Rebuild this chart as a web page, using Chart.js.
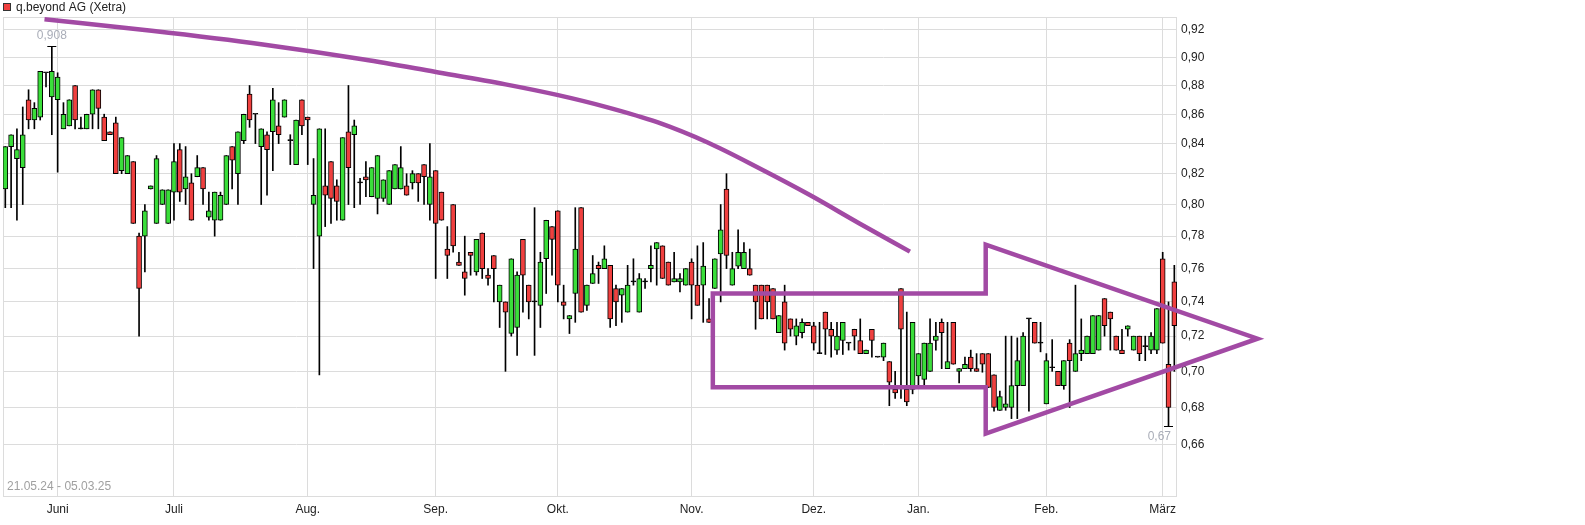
<!DOCTYPE html>
<html>
<head>
<meta charset="utf-8">
<script src="https://cdn.jsdelivr.net/npm/chart.js@4"></script>
<style>
  html, body { margin: 0; padding: 0; background: #fff; }
</style>
</head>
<body>
<canvas id="chart" width="1585" height="525"></canvas>
<script>
// OHLC, one entry per Xetra trading day, 21.05.24 - 05.03.25
const opens = [
  0.810,0.838,0.830,0.824,0.870,0.856,0.858,0.889,0.872,0.870,
  0.850,0.852,0.880,0.850,0.850,0.860,0.877,0.858,0.848,0.854,
  0.822,0.820,0.828,0.780,0.780,0.810,0.788,0.800,0.788,0.808,
  0.836,0.810,0.814,0.818,0.824,0.792,0.790,0.790,0.800,0.838,
  0.820,0.842,0.874,0.860,0.838,0.846,0.848,0.852,0.858,0.842,
  0.826,0.870,0.858,0.800,0.780,0.812,0.828,0.812,0.790,0.848,
  0.846,0.814,0.818,0.805,0.804,0.804,0.800,0.810,0.810,0.812,
  0.814,0.820,0.826,0.800,0.822,0.808,0.772,0.800,0.764,0.758,
  0.770,0.758,0.782,0.756,0.768,0.740,0.740,0.7215,0.725,0.778,
  0.750,0.740,0.738,0.766,0.786,0.796,0.740,0.730,0.745,0.798,
  0.738,0.751,0.762,0.760,0.762,0.748,0.744,0.734,0.752,0.734,
  0.752,0.760,0.772,0.774,0.764,0.752,0.752,0.750,0.764,0.750,
  0.750,0.730,0.748,0.769,0.810,0.750,0.7615,0.760,0.760,0.750,
  0.750,0.750,0.748,0.722,0.740,0.730,0.720,0.722,0.728,0.726,
  0.710,0.734,0.724,0.712,0.7175,0.716,0.724,0.7175,0.710,0.724,
  0.708,0.708,0.7055,0.690,0.748,0.690,0.690,0.6975,0.6955,0.700,
  0.7175,0.728,0.7015,0.728,0.700,0.7015,0.708,0.7015,0.710,0.710,
  0.698,0.6785,0.680,0.680,0.692,0.692,0.730,0.728,0.716,0.682,
  0.702,0.700,0.692,0.716,0.700,0.710,0.710,0.710,0.712,0.742,
  0.734,0.720,0.712,0.724,0.712,0.720,0.714,0.712,0.712,0.766,
  0.704,0.752
];
const highs = [
  0.838,0.846,0.850,0.865,0.877,0.868,0.890,0.889,0.908,0.889,
  0.868,0.870,0.880,0.858,0.860,0.877,0.877,0.860,0.848,0.858,
  0.844,0.832,0.828,0.782,0.800,0.812,0.832,0.8095,0.8095,0.840,
  0.840,0.838,0.820,0.832,0.824,0.808,0.808,0.808,0.832,0.838,
  0.848,0.860,0.880,0.860,0.850,0.848,0.878,0.868,0.870,0.846,
  0.856,0.870,0.858,0.830,0.850,0.850,0.828,0.816,0.844,0.880,
  0.856,0.817,0.828,0.824,0.832,0.816,0.822,0.826,0.838,0.820,
  0.822,0.820,0.826,0.840,0.822,0.808,0.786,0.800,0.770,0.780,
  0.770,0.778,0.782,0.760,0.768,0.750,0.740,0.766,0.758,0.778,
  0.750,0.798,0.770,0.790,0.786,0.796,0.750,0.732,0.798,0.798,
  0.750,0.768,0.764,0.774,0.762,0.750,0.748,0.762,0.766,0.757,
  0.754,0.774,0.776,0.774,0.764,0.770,0.757,0.760,0.766,0.774,
  0.776,0.742,0.766,0.800,0.820,0.770,0.784,0.776,0.772,0.750,
  0.750,0.750,0.748,0.732,0.750,0.730,0.730,0.730,0.728,0.728,
  0.728,0.734,0.728,0.728,0.728,0.716,0.724,0.730,0.712,0.724,
  0.708,0.716,0.7055,0.700,0.748,0.734,0.728,0.710,0.716,0.730,
  0.728,0.730,0.728,0.728,0.7015,0.708,0.712,0.710,0.710,0.710,
  0.698,0.689,0.720,0.720,0.719,0.722,0.730,0.728,0.728,0.710,
  0.718,0.700,0.706,0.718,0.750,0.730,0.720,0.732,0.732,0.742,
  0.734,0.720,0.724,0.726,0.720,0.720,0.720,0.722,0.736,0.770,
  0.740,0.762
];
const lows = [
  0.798,0.798,0.790,0.800,0.850,0.850,0.856,0.879,0.846,0.821,
  0.850,0.852,0.850,0.850,0.850,0.850,0.850,0.842,0.846,0.820,
  0.820,0.820,0.788,0.720,0.758,0.810,0.788,0.800,0.788,0.790,
  0.802,0.800,0.790,0.818,0.800,0.790,0.780,0.790,0.800,0.810,
  0.800,0.840,0.851,0.840,0.800,0.806,0.822,0.840,0.858,0.826,
  0.826,0.846,0.826,0.760,0.698,0.786,0.788,0.790,0.790,0.800,
  0.798,0.800,0.805,0.805,0.794,0.802,0.800,0.810,0.810,0.806,
  0.810,0.802,0.800,0.790,0.754,0.790,0.754,0.770,0.762,0.744,
  0.756,0.756,0.754,0.750,0.740,0.725,0.700,0.720,0.709,0.734,
  0.730,0.709,0.725,0.745,0.756,0.740,0.730,0.7215,0.728,0.734,
  0.735,0.751,0.751,0.760,0.725,0.726,0.728,0.734,0.750,0.734,
  0.748,0.752,0.750,0.754,0.750,0.752,0.746,0.750,0.730,0.738,
  0.728,0.728,0.748,0.740,0.760,0.750,0.760,0.760,0.756,0.724,
  0.730,0.730,0.730,0.722,0.712,0.720,0.715,0.719,0.726,0.712,
  0.710,0.7095,0.708,0.7095,0.7095,0.712,0.712,0.710,0.710,0.708,
  0.708,0.706,0.681,0.685,0.685,0.681,0.6875,0.692,0.692,0.700,
  0.712,0.7015,0.7015,0.704,0.6935,0.7015,0.700,0.700,0.6995,0.691,
  0.678,0.6785,0.6785,0.674,0.674,0.692,0.678,0.716,0.711,0.682,
  0.700,0.692,0.690,0.680,0.700,0.706,0.710,0.710,0.712,0.720,
  0.712,0.712,0.710,0.720,0.712,0.706,0.706,0.710,0.710,0.716,
  0.670,0.700
];
const closes = [
  0.838,0.846,0.836,0.846,0.856,0.864,0.890,0.889,0.890,0.886,
  0.860,0.870,0.856,0.850,0.860,0.877,0.864,0.842,0.846,0.820,
  0.844,0.832,0.788,0.748,0.796,0.812,0.830,0.8095,0.8095,0.828,
  0.808,0.818,0.790,0.824,0.810,0.796,0.808,0.806,0.832,0.829,
  0.848,0.860,0.856,0.860,0.850,0.836,0.870,0.846,0.870,0.842,
  0.856,0.852,0.856,0.806,0.850,0.806,0.804,0.802,0.844,0.824,
  0.852,0.814,0.816,0.824,0.832,0.816,0.822,0.826,0.824,0.806,
  0.820,0.814,0.818,0.818,0.788,0.790,0.768,0.774,0.762,0.754,
  0.768,0.778,0.760,0.754,0.760,0.750,0.734,0.766,0.756,0.756,
  0.740,0.740,0.764,0.790,0.778,0.750,0.738,0.732,0.772,0.734,
  0.750,0.757,0.760,0.766,0.730,0.740,0.748,0.750,0.752,0.754,
  0.752,0.762,0.776,0.754,0.750,0.754,0.754,0.760,0.750,0.738,
  0.7615,0.728,0.766,0.784,0.768,0.760,0.770,0.770,0.756,0.740,
  0.730,0.740,0.730,0.732,0.716,0.724,0.726,0.728,0.726,0.716,
  0.710,0.724,0.720,0.720,0.728,0.716,0.720,0.710,0.712,0.7175,
  0.708,0.716,0.694,0.688,0.724,0.683,0.728,0.710,0.716,0.716,
  0.720,0.722,0.7055,0.704,0.7015,0.704,0.7015,0.700,0.704,0.691,
  0.680,0.686,0.682,0.692,0.706,0.720,0.730,0.716,0.716,0.706,
  0.702,0.692,0.706,0.706,0.710,0.712,0.720,0.732,0.732,0.726,
  0.730,0.712,0.710,0.726,0.720,0.710,0.714,0.720,0.736,0.716,
  0.680,0.726
];

// first trading day of each month (index into the arrays above)
const monthIdx = [9, 29, 52, 74, 95, 118, 139, 157, 179, 199];
const monthNames = ['Juni', 'Juli', 'Aug.', 'Sep.', 'Okt.', 'Nov.', 'Dez.', 'Jan.', 'Feb.', 'März'];
const yTicks = [0.66, 0.68, 0.70, 0.72, 0.74, 0.76, 0.78, 0.80, 0.82, 0.84, 0.86, 0.88, 0.90, 0.92];

// hand drawn trend lines (x = trading day index, y = price)
const curveX = [6.74, 25.16, 44.29, 61.67, 73.83, 86.0, 94.86, 103.39, 112.09, 120.77, 129.47, 138.33, 146.86, 155.54];
const curveY = [0.9279, 0.9194, 0.9094, 0.8985, 0.8897, 0.8808, 0.8734, 0.8649, 0.8545, 0.8407, 0.8239, 0.8061, 0.7880, 0.7704];
const arrowX = [121.65, 121.65, 168.57, 168.57, 215.3, 168.57, 168.57, 121.65, 121.65];
const arrowY = [0.72, 0.745, 0.745, 0.7747, 0.7185, 0.666, 0.6912, 0.6912, 0.72];

const title = 'q.beyond AG (Xetra)';
const rangeText = '21.05.24 - 05.03.25';

const green = '#3ade3a';
const red = '#f0403f';
const purple = '#a24aa4';
const gridColor = '#dcdcdc';
const fontFam = "'Liberation Sans', Arial, sans-serif";

Chart.defaults.font.family = fontFam;
Chart.defaults.font.size = 12;
Chart.defaults.color = '#222';

const bodies = opens.map((o, i) => ({x: i, y: [o, closes[i]]}));
const wicks = highs.map((h, i) => ({x: i, y: [lows[i], h]}));

function fmt(v) {
  return String(v).replace('.', ',');
}

const extras = {
  id: 'extras',
  beforeDatasetsDraw(chart) {
    const {ctx, chartArea: a} = chart;
    ctx.save();
    ctx.strokeStyle = gridColor;
    ctx.lineWidth = 1;
    ctx.strokeRect(a.left + 0.5, a.top + 0.5, a.right - a.left - 1, a.bottom - a.top - 1);
    ctx.fillStyle = '#a0a0a0';
    ctx.textBaseline = 'middle';
    ctx.textAlign = 'left';
    ctx.font = '12px ' + fontFam;
    ctx.fillText(rangeText, a.left + 4, a.bottom - 10);
    ctx.restore();
  },
  afterDraw(chart) {
    const {ctx, chartArea: a, scales} = chart;
    ctx.save();
    // legend
    ctx.fillStyle = red;
    ctx.fillRect(3, 3, 8, 8);
    ctx.strokeStyle = '#333';
    ctx.lineWidth = 1;
    ctx.strokeRect(3.5, 3.5, 7, 7);
    ctx.fillStyle = '#222';
    ctx.font = '12px ' + fontFam;
    ctx.textBaseline = 'middle';
    ctx.textAlign = 'left';
    ctx.fillText(title, 16, 7.5);

    // highest high / lowest low markers
    let hi = 0, lo = 0;
    highs.forEach((v, i) => { if (v > highs[hi]) hi = i; });
    lows.forEach((v, i) => { if (v < lows[lo]) lo = i; });
    const hx = scales.x.getPixelForValue(hi), hy = Math.round(scales.y.getPixelForValue(highs[hi]));
    const lx = scales.x.getPixelForValue(lo), ly = Math.round(scales.y.getPixelForValue(lows[lo]));
    ctx.strokeStyle = '#000';
    ctx.beginPath();
    ctx.moveTo(hx - 4.5, hy + 0.5); ctx.lineTo(hx + 4.5, hy + 0.5);
    ctx.moveTo(lx - 4.5, ly + 0.5); ctx.lineTo(lx + 4.5, ly + 0.5);
    ctx.stroke();
    ctx.fillStyle = '#a9adb8';
    ctx.textAlign = 'center';
    ctx.fillText(fmt(highs[hi]), hx, hy - 10);
    const lt = fmt(lows[lo]);
    const w = ctx.measureText(lt).width;
    ctx.fillText(lt, Math.min(lx, a.right - 6 - w / 2), ly + 11);
    ctx.restore();
  }
};

new Chart(document.getElementById('chart'), {
  type: 'bar',
  data: {
    datasets: [
      {
        type: 'line',
        data: curveX.map((x, i) => ({x: x, y: curveY[i]})),
        borderColor: purple,
        borderWidth: 4.5,
        pointRadius: 0,
        cubicInterpolationMode: 'monotone',
        borderCapStyle: 'butt',
        clip: false,
        order: 0
      },
      {
        type: 'line',
        data: arrowX.map((x, i) => ({x: x, y: arrowY[i]})),
        borderColor: purple,
        borderWidth: 4.5,
        pointRadius: 0,
        tension: 0,
        borderJoinStyle: 'miter',
        clip: false,
        order: 0
      },
      {
        data: bodies,
        backgroundColor: ctx => {
          const i = ctx.dataIndex;
          if (closes[i] > opens[i]) return green;
          if (closes[i] < opens[i]) return red;
          return '#000';
        },
        borderColor: '#000',
        borderWidth: 1,
        borderSkipped: false,
        barThickness: 5,
        minBarLength: 1,
        grouped: false,
        order: 1
      },
      {
        data: wicks,
        backgroundColor: '#000',
        borderWidth: 0,
        barThickness: 1,
        grouped: false,
        order: 2
      }
    ]
  },
  options: {
    responsive: false,
    devicePixelRatio: 1,
    animation: false,
    events: [],
    layout: { padding: { left: 3, top: 17, right: 0, bottom: 0 } },
    plugins: {
      legend: { display: false },
      tooltip: { enabled: false }
    },
    scales: {
      x: {
        type: 'linear',
        min: -0.395,
        max: 201.46,
        offset: false,
        afterBuildTicks: s => { s.ticks = monthIdx.map(v => ({value: v})); },
        afterFit: s => { s.height = 28; },
        ticks: {
          autoSkip: false,
          maxRotation: 0,
          padding: 5,
          color: '#222',
          callback: v => monthNames[monthIdx.indexOf(v)]
        },
        grid: { color: gridColor, drawTicks: false, offset: false },
        border: { display: false }
      },
      y: {
        type: 'logarithmic',
        position: 'right',
        min: 0.633,
        max: 0.9296,
        afterBuildTicks: s => { s.ticks = yTicks.map(v => ({value: v})); },
        afterFit: s => { s.width = 408; },
        ticks: {
          padding: 4,
          color: '#222',
          callback: v => v.toFixed(2).replace('.', ',')
        },
        grid: { color: gridColor, drawTicks: false },
        border: { display: false }
      }
    }
  },
  plugins: [extras]
});
</script>
</body>
</html>
